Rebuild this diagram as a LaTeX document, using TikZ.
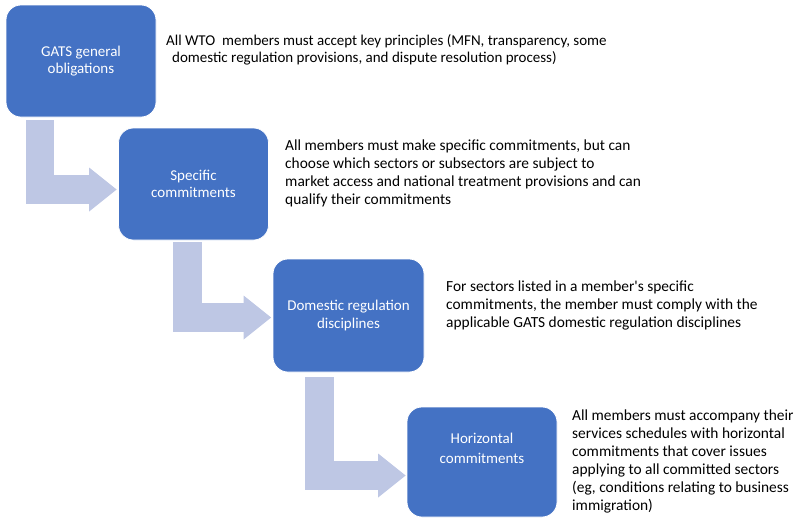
\documentclass[tikz,border=0pt]{standalone}
\usepackage{fontspec}
\setmainfont{Carlito}
\usetikzlibrary{arrows.meta}
\definecolor{boxblue}{RGB}{68,114,196}
\definecolor{arrowblue}{RGB}{190,199,228}

\begin{document}
\begin{tikzpicture}[x=1pt,y=-1pt,
  stage/.style={draw=white, line width=.75pt, fill=boxblue, rounded corners=15pt,
    minimum width=150pt, minimum height=112pt, text=white, align=center,
    inner sep=0pt, font=\fontsize{15}{17.5}\selectfont},
  note/.style={anchor=north west, align=left, inner sep=0pt,
    font=\fontsize{15.4}{18}\selectfont},
  flow/.style={draw=arrowblue, line width=28.5pt,
    -{Triangle[length=27.5pt,width=44pt,line width=0pt]}}]

\useasboundingbox (0,0) rectangle (794,517);

%boxes
\node [stage] (b1) at (81,61) {GATS general\\obligations};
\node [stage] (b2) at (193.5,184) {Specific\\commitments};
\node [stage, minimum width=151pt, minimum height=113pt] (b3) at (348.5,315.5) {Domestic regulation\\disciplines};
\node [stage, minimum height=110pt] (b4) at (482,462) {};
\node [text=white, align=center, inner sep=0pt, font=\fontsize{15}{20}\selectfont] (b4t) at (482,448) {Horizontal\\commitments};

%bent arrows
\draw [flow] ([xshift=34.5pt,yshift=-3pt]b1.south west) |- ([xshift=-1.5pt,yshift=-5.5pt]b2.west);
\draw [flow] ([xshift=69.5pt,yshift=-2pt]b2.south west) |- ([xshift=-1.5pt,yshift=-2pt]b3.west);
\draw [flow] ([xshift=47pt,yshift=-5pt]b3.south west) |- ([xshift=-1pt,yshift=-13.5pt]b4.west);

%explanations
\node [note, font=\fontsize{15}{17.5}\selectfont] (n1) at (166,34) {All WTO\ \ members must accept key principles (MFN, transparency, some\\
  \hspace*{6pt}domestic regulation provisions, and dispute resolution process)};
\node [note] (n2) at (285,139.5) {All members must make specific commitments, but can\\
  choose which sectors or subsectors are subject to\\
  market access and national treatment provisions and can\\
  qualify their commitments};
\node [note] (n3) at (446,281) {For sectors listed in a member\textquotesingle s specific\\
  commitments, the member must comply with the\\
  applicable GATS domestic regulation disciplines};
\node [note] (n4) at (572,410) {All members must accompany their\\
  services schedules with horizontal\\
  commitments that cover issues\\
  applying to all committed sectors\\
  (eg, conditions relating to business\\
  immigration)};

\end{tikzpicture}
\end{document}
